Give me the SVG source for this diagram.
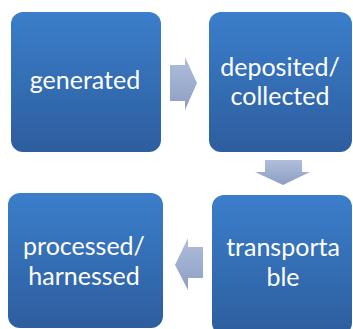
<svg xmlns="http://www.w3.org/2000/svg" width="353" height="329" viewBox="0 0 353 329">
<defs>
<linearGradient id="boxg" x1="0" y1="0" x2="0" y2="1">
<stop offset="0" stop-color="#3b7ecb"/>
<stop offset="1" stop-color="#2d5e9e"/>
</linearGradient>
<linearGradient id="arrg" x1="0" y1="0" x2="0" y2="1">
<stop offset="0" stop-color="#b0bedb"/>
<stop offset="1" stop-color="#8c9ec3"/>
</linearGradient>
</defs>
<style>
.box{fill:url(#boxg);}
.lbl{fill:#ffffff;font-family:Lato,"Open Sans",sans-serif;font-size:25px;text-anchor:middle;}
.arr{fill:url(#arrg);}
</style>
<rect width="353" height="329" fill="#ffffff"/>
<g id="connectors">
<path class="arr" d="M170,65 L185,65 L185,57 L197,83 L185,110 L185,101 L170,101 Z"/>
<path class="arr" d="M265,160 L302,160 L302,172 L310,172 L283,185 L255,172 L265,172 Z"/>
<path class="arr" d="M203,247 L188,247 L188,238 L175,265 L188,290 L188,278 L203,278 Z"/>
</g>
<g id="generated">
<rect class="box" x="11" y="12" width="150" height="140" rx="12"/>
<text class="lbl" x="85" y="89">generated</text>
</g>
<g id="deposited">
<rect class="box" x="209" y="12" width="143" height="140" rx="12"/>
<text class="lbl" x="280" y="76">deposited/</text>
<text class="lbl" x="280" y="105">collected</text>
</g>
<g id="transportable">
<rect class="box" x="212" y="195" width="140" height="140" rx="12"/>
<text class="lbl" x="283" y="256">transporta</text>
<text class="lbl" x="283" y="286">ble</text>
</g>
<g id="processed">
<rect class="box" x="8" y="193" width="155" height="135" rx="12"/>
<text class="lbl" x="84" y="255">processed/</text>
<text class="lbl" x="84" y="285">harnessed</text>
</g>
</svg>
